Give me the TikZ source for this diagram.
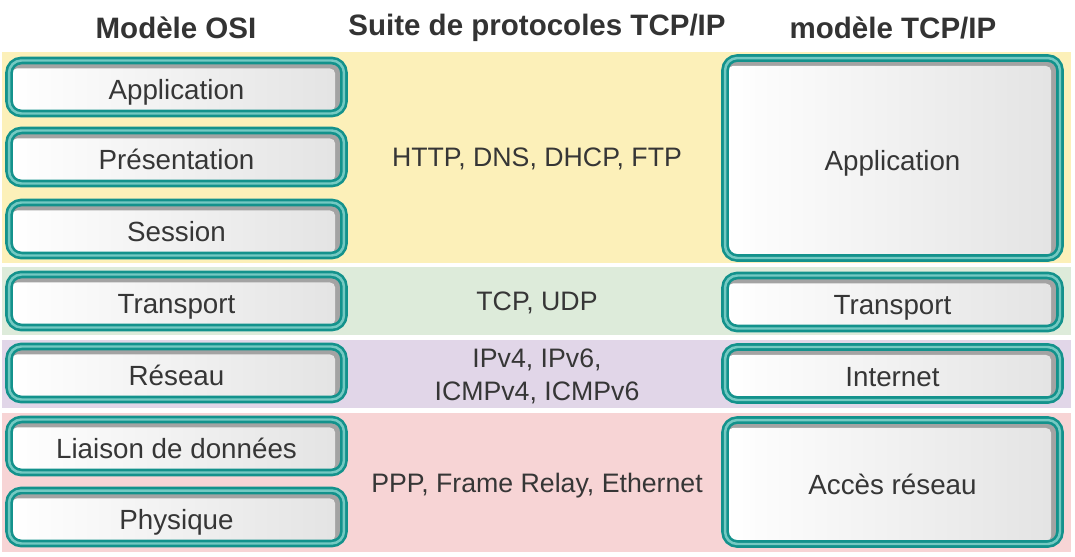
\documentclass[tikz,border=0pt]{standalone}
\usepackage{fontspec}
\setmainfont{Liberation Sans}
\usepackage{tikz}

\begin{document}
\begin{tikzpicture}[x=0.02cm,y=-0.02cm,
  layerbox/.style={draw=tealDark, double=tealLight, double distance=1.4pt,
    line width=1.5pt, rounded corners=7pt, fill=shadowGray, text=labelGray,
    font=\fontsize{15.8}{19}\selectfont, text height=18pt, text depth=3.3pt,
    minimum width=6.70cm, minimum height=1.06cm, inner sep=0pt,
    path picture={\shade[left color=white, right color=boxGray, rounded corners=3pt]
      ([shift={(1.5pt,1.5pt)}]path picture bounding box.south west) rectangle
      ([shift={(-5pt,-4.5pt)}]path picture bounding box.north east);}},
  protolabel/.style={text=labelGray, font=\fontsize{15.2}{18.8}\selectfont, align=center},
  colhead/.style={text=headGray, font=\fontsize{16.8}{20}\selectfont\bfseries}]
\definecolor{bandYellow}{HTML}{FCF0B9}
\definecolor{bandGreen}{HTML}{DDEBDA}
\definecolor{bandPurple}{HTML}{E1D6E8}
\definecolor{bandPink}{HTML}{F7D4D5}
\definecolor{tealDark}{HTML}{13928C}
\definecolor{tealLight}{HTML}{74C9C2}
\definecolor{shadowGray}{HTML}{A3A3A3}
\definecolor{boxGray}{HTML}{E3E3E3}
\definecolor{labelGray}{HTML}{363636}
\definecolor{headGray}{HTML}{333333}
\useasboundingbox (0,0) rectangle (1075,556);
\fill[bandYellow] (2,52) rectangle (1071,263);
\fill[bandGreen] (2,267) rectangle (1071,335);
\fill[bandPurple] (2,340) rectangle (1071,408);
\fill[bandPink] (2,413) rectangle (1071,552);
\node[colhead] (osiHead) at (176,28) {Modèle OSI};
\node[colhead] (suiteHead) at (537,28) {Suite de protocoles TCP/IP};
\node[colhead] (tcpHead) at (893,28) {modèle TCP/IP};
\foreach \name/\y/\lab in {osiApp/87/Application,osiPres/157/Présentation,
    osiSess/229/Session,osiTrans/301/Transport,osiNet/373/Réseau,
    osiLink/446/Liaison de données,osiPhys/517/Physique} {
  \node[layerbox] (\name) at (176.5,\y) {\lab};
}
\node[layerbox, minimum height=4.0cm] (tcpApp) at (892.5,158) {Application};
\node[layerbox] (tcpTrans) at (892.5,302) {Transport};
\node[layerbox] (tcpNet) at (892.5,373.5) {Internet};
\node[layerbox, minimum height=2.48cm] (tcpAcc) at (892.5,482) {Accès réseau};
\node[protolabel] (protoApp) at (537,159) {HTTP, DNS, DHCP, FTP};
\node[protolabel] (protoTrans) at (537,302.5) {TCP, UDP};
\node[protolabel] (protoNet) at (537,376) {IPv4, IPv6,\\ICMPv4, ICMPv6};
\node[protolabel] (protoLink) at (537,485.5) {PPP, Frame Relay, Ethernet};
\end{tikzpicture}
\end{document}
